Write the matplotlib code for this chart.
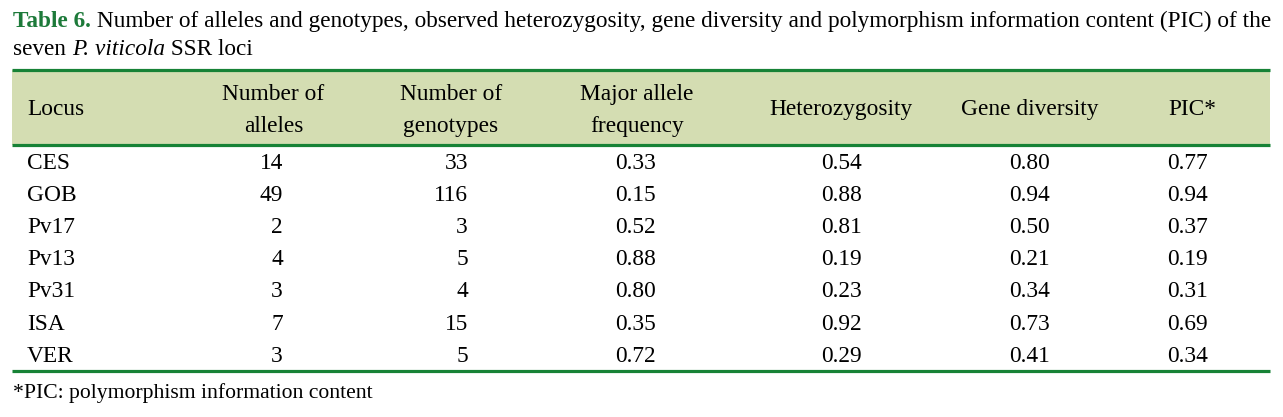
import matplotlib
matplotlib.use("Agg")
import matplotlib.pyplot as plt

# ---- data ----
loci = ["CES", "GOB", "Pv17", "Pv13", "Pv31", "ISA", "VER"]
n_alleles = ["14", "49", "2", "4", "3", "7", "3"]
n_genotypes = ["33", "116", "3", "5", "4", "15", "5"]
major_allele_freq = ["0.33", "0.15", "0.52", "0.88", "0.80", "0.35", "0.72"]
heterozygosity = ["0.54", "0.88", "0.81", "0.19", "0.23", "0.92", "0.29"]
gene_diversity = ["0.80", "0.94", "0.50", "0.21", "0.34", "0.73", "0.41"]
pic = ["0.77", "0.94", "0.37", "0.19", "0.31", "0.69", "0.34"]

headers = [["Locus"], ["Number of", "alleles"], ["Number of", "genotypes"],
           ["Major allele", "frequency"], ["Heterozygosity"], ["Gene diversity"], ["PIC*"]]

title_label = "Table 6."
title_line1 = " Number of alleles and genotypes, observed heterozygosity, gene diversity and polymorphism information content (PIC) of the"
title_line2 = [("seven ", "normal"), ("P. viticola", "italic"), (" SSR loci", "normal")]
footnote = "*PIC: polymorphism information content"

# ---- style ----
W, H = 1283, 417
FONT = "Liberation Serif"
FS = 16.8
TFS = 16.72
NFS = 15.6
GREEN = "#178236"
TGREEN = "#1d7a3a"
BG = "#d4ddb2"

fig = plt.figure(figsize=(W / 100, H / 100), dpi=100)
ax = fig.add_axes([0, 0, 1, 1])
ax.set_xlim(0, W)
ax.set_ylim(H, 0)
ax.axis("off")

renderer = fig.canvas.get_renderer()

def right_edge(t):
    bb = t.get_window_extent(renderer)
    return bb.x1

# title line 1
t = ax.text(13, 27, title_label, fontsize=TFS, family=FONT, weight="bold",
            color=TGREEN, va="baseline", ha="left")
x = right_edge(t)
ax.text(x, 27, title_line1, fontsize=TFS, family=FONT, color="black",
        va="baseline", ha="left")

# title line 2
x = 13
for s, style in title_line2:
    t = ax.text(x, 55, s, fontsize=TFS, family=FONT, style=style,
                color="black", va="baseline", ha="left")
    x = right_edge(t)

# table frame
x0, x1 = 12, 1270
top, hdr_bot, bot = 70, 145, 370.5
ax.fill_between([x0, x1], top, hdr_bot, color=BG, zorder=0, linewidth=0)
for y in (top, hdr_bot, bot):
    ax.plot([x0, x1], [y, y], color=GREEN, linewidth=2.3, solid_capstyle="butt")

# headers
hdr_x = [27, 273.5, 451, 637, 841, 1030, 1192]
for i, (hx, lines) in enumerate(zip(hdr_x, headers)):
    ha = "left" if i == 0 else "center"
    if len(lines) == 1:
        ax.text(hx, 115, lines[0], fontsize=FS, family=FONT, ha=ha, va="baseline")
    else:
        ax.text(hx, 100, lines[0], fontsize=FS, family=FONT, ha=ha, va="baseline")
        ax.text(hx, 132, lines[1], fontsize=FS, family=FONT, ha=ha, va="baseline")

# body
cols = [n_alleles, n_genotypes, major_allele_freq, heterozygosity, gene_diversity, pic]
col_right = [283, 468, 656, 862, 1050, 1208]
row0, dy = 169, 32.1
for r, locus in enumerate(loci):
    yb = row0 + r * dy
    ax.text(27, yb, locus, fontsize=FS, family=FONT, ha="left", va="baseline")
    for c, col in enumerate(cols):
        ax.text(col_right[c], yb, col[r], fontsize=FS, family=FONT,
                ha="right", va="baseline")

# footnote
ax.text(13, 398, footnote, fontsize=NFS, family=FONT, ha="left", va="baseline")

fig.savefig("out.png", dpi=100, facecolor="white")
